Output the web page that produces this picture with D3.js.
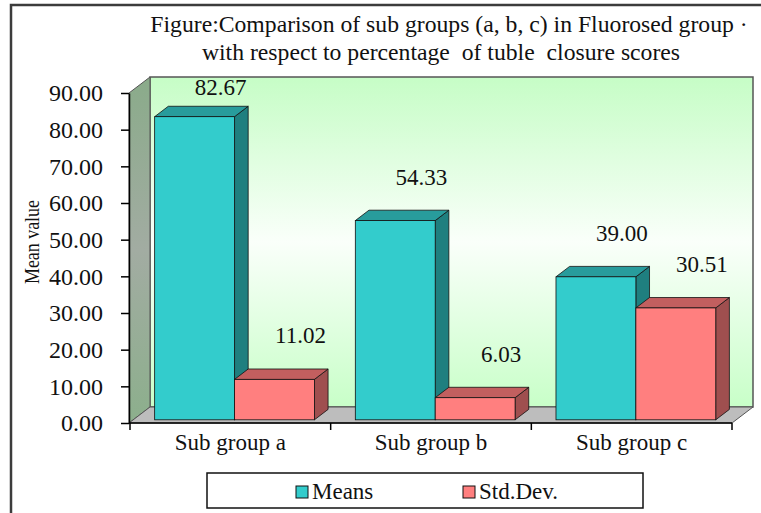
<!DOCTYPE html>
<html>
<head>
<meta charset="utf-8">
<script src="https://cdn.jsdelivr.net/npm/d3@7"></script>
<style>
  html, body { margin: 0; padding: 0; background: #fff; }
  svg text { font-family: "Liberation Serif", "Times New Roman", serif; fill: #111; }
</style>
</head>
<body>
<svg id="chart" width="761" height="513"></svg>
<script>
// Sub-group summary values
const categories = ["Sub group a", "Sub group b", "Sub group c"];
const seriesNames = ["Means", "Std.Dev."];
const means = [82.67, 54.33, 39.00];
const stdDevs = [11.02, 6.03, 30.51];
const yTicks = [0, 10, 20, 30, 40, 50, 60, 70, 80, 90];
const titleLines = [
  "Figure:Comparison of sub groups (a, b, c) in Fluorosed group \u00b7",
  "with respect to percentage  of tuble  closure scores"
];
const yAxisTitle = "Mean value";

const colors = {
  "Means":    { front: "#33cccc", top: "#289c9c", side: "#1f7f7f" },
  "Std.Dev.": { front: "#ff7f7f", top: "#c25f5f", side: "#9f4f4f" }
};

const svg = d3.select("#chart");

// outer frame
svg.append("rect").attr("x", 11).attr("y", 5).attr("width", 800).attr("height", 600)
  .attr("fill", "#fff").attr("stroke", "#3c3c3c").attr("stroke-width", 2.5);

// scales (front plane)
const y = d3.scaleLinear().domain([0, 90]).range([423, 93]);
const x0 = d3.scaleBand().domain(categories).range([130, 732]);
const x1 = d3.scaleBand().domain(seriesNames).range([0, x0.bandwidth()]).paddingOuter(0.256);

// depth projection
const DX = 21, DY = -16;
const f0 = 0.2, f1 = 0.85;

const defs = svg.append("defs");
const wallGrad = defs.append("linearGradient").attr("id", "wallGrad")
  .attr("x1", 0).attr("y1", 0).attr("x2", 0).attr("y2", 1);
wallGrad.append("stop").attr("offset", "0%").attr("stop-color", "#c6fdc6");
wallGrad.append("stop").attr("offset", "50%").attr("stop-color", "#fafffa");
wallGrad.append("stop").attr("offset", "100%").attr("stop-color", "#c8ffc8");

const sideGrad = defs.append("linearGradient").attr("id", "sideGrad")
  .attr("x1", 0).attr("y1", 0).attr("x2", 0).attr("y2", 1);
sideGrad.append("stop").attr("offset", "0%").attr("stop-color", "#8aab8a");
sideGrad.append("stop").attr("offset", "50%").attr("stop-color", "#a2aca2");
sideGrad.append("stop").attr("offset", "100%").attr("stop-color", "#8caf8c");

const xL = x0.range()[0] - 1, xR = x0.range()[1];
const yT = y(90), yB = y(0);
const pts = a => a.map(p => p.join(",")).join(" ");

// back wall
svg.append("polygon")
  .attr("points", pts([[xL + DX, yT + DY], [xR + DX, yT + DY], [xR + DX, yB + DY], [xL + DX, yB + DY]]))
  .attr("fill", "url(#wallGrad)").attr("stroke", "#555").attr("stroke-width", 1.5);
// side wall
svg.append("polygon")
  .attr("points", pts([[xL, yT], [xL + DX, yT + DY], [xL + DX, yB + DY], [xL, yB]]))
  .attr("fill", "url(#sideGrad)").attr("stroke", "#555").attr("stroke-width", 1);
// floor
svg.append("polygon")
  .attr("points", pts([[xL, yB], [xR, yB], [xR + DX, yB + DY], [xL + DX, yB + DY]]))
  .attr("fill", "#bdbdbd").attr("stroke", "#555").attr("stroke-width", 1);

// bars
const rows = [];
categories.forEach((c, i) => {
  rows.push({ cat: c, series: "Means", value: means[i] });
  rows.push({ cat: c, series: "Std.Dev.", value: stdDevs[i] });
});

const ox0 = DX * f0, oy0 = DY * f0, ox1 = DX * f1, oy1 = DY * f1;
const barG = svg.append("g");
rows.forEach(d => {
  const l = x0(d.cat) + x1(d.series), r = l + x1.bandwidth();
  const t = y(d.value), b = y(0);
  const col = colors[d.series];
  const g = barG.append("g");
  g.append("polygon")
    .attr("points", pts([[r + ox0, t + oy0], [r + ox1, t + oy1], [r + ox1, b + oy1], [r + ox0, b + oy0]]))
    .attr("fill", col.side).attr("stroke", "#111").attr("stroke-width", 0.8);
  g.append("polygon")
    .attr("points", pts([[l + ox0, t + oy0], [r + ox0, t + oy0], [r + ox1, t + oy1], [l + ox1, t + oy1]]))
    .attr("fill", col.top).attr("stroke", "#111").attr("stroke-width", 0.8);
  g.append("rect")
    .attr("x", l + ox0).attr("y", t + oy0).attr("width", r - l).attr("height", b - t)
    .attr("fill", col.front).attr("stroke", "#111").attr("stroke-width", 0.8);
});

// value labels
rows.forEach(d => {
  const l = x0(d.cat) + x1(d.series);
  const cx = l + x1.bandwidth() / 2 + ox0 + 26;
  const ty = Math.max(95, y(d.value) + oy0 - 36);
  svg.append("text").attr("x", cx).attr("y", ty).attr("text-anchor", "middle")
    .style("font-size", "23px").text(d.value.toFixed(2));
});

// y axis
const yAxis = d3.axisLeft(y).tickValues(yTicks).tickFormat(d => d.toFixed(2))
  .tickSize(8).tickSizeOuter(0).tickPadding(18);
const yG = svg.append("g").attr("transform", `translate(${xL},0)`).call(yAxis);
yG.select(".domain").attr("stroke", "#000").attr("stroke-width", 1.5);
yG.selectAll(".tick line").attr("stroke", "#000").attr("stroke-width", 1.5);
yG.selectAll(".tick text").style("font-size", "24px").attr("fill", "#111")
  .style("font-family", "'Liberation Serif', 'Times New Roman', serif");

// x axis (ticks between categories)
const xG = svg.append("g");
xG.append("line").attr("x1", xL).attr("x2", xR).attr("y1", yB).attr("y2", yB)
  .attr("stroke", "#000").attr("stroke-width", 1.5);
const bounds = categories.map(c => x0(c)).concat([xR]);
xG.selectAll("line.tk").data(bounds).join("line").attr("class", "tk")
  .attr("x1", d => d).attr("x2", d => d).attr("y1", yB).attr("y2", yB + 7)
  .attr("stroke", "#000").attr("stroke-width", 1.5);
xG.selectAll("text").data(categories).join("text")
  .attr("x", d => x0(d) + x0.bandwidth() / 2).attr("y", 450)
  .attr("text-anchor", "middle").style("font-size", "23px").text(d => d);

// y axis title
svg.append("text").attr("transform", "translate(39,242) rotate(-90)")
  .attr("text-anchor", "middle").style("font-size", "20px")
  .attr("textLength", 84).attr("lengthAdjust", "spacingAndGlyphs").text(yAxisTitle);

// title
svg.selectAll("text.title").data(titleLines).join("text").attr("class", "title")
  .attr("x", (d, i) => i === 0 ? 449 : 441).attr("y", (d, i) => 32 + i * 28)
  .attr("text-anchor", "middle").style("font-size", "23.7px").style("white-space", "pre")
  .attr("xml:space", "preserve").text(d => d);

// legend
const lg = svg.append("g");
lg.append("rect").attr("x", 207).attr("y", 473).attr("width", 436).attr("height", 35)
  .attr("fill", "#fff").attr("stroke", "#111").attr("stroke-width", 1.5);
const legendX = [296, 463];
seriesNames.forEach((s, i) => {
  lg.append("rect").attr("x", legendX[i]).attr("y", 486).attr("width", 12).attr("height", 12)
    .attr("fill", colors[s].front).attr("stroke", "#111").attr("stroke-width", 1);
  lg.append("text").attr("x", legendX[i] + 16).attr("y", 499).style("font-size", "23px").text(s);
});
</script>
</body>
</html>
